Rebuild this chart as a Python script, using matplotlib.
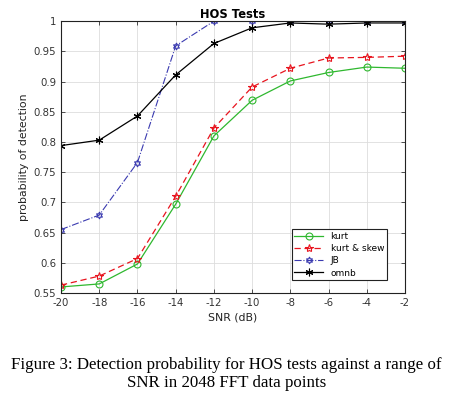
import matplotlib.pyplot as plt

plt.rcParams["axes.unicode_minus"] = False

snr = [-20, -18, -16, -14, -12, -10, -8, -6, -4, -2]
kurt = [0.560, 0.565, 0.598, 0.697, 0.810, 0.869, 0.901, 0.915, 0.924, 0.922]
kurt_skew = [0.563, 0.578, 0.607, 0.710, 0.823, 0.891, 0.922, 0.939, 0.940, 0.942]
jb = [0.655, 0.679, 0.766, 0.959, 1.000, 1.000, 1.000, 1.000, 1.000, 1.000]
omnb = [0.794, 0.803, 0.843, 0.911, 0.963, 0.989, 0.997, 0.995, 0.997, 0.997]

fig = plt.figure(figsize=(4.53, 3.99), dpi=100)
ax = fig.add_axes([0.1347, 0.2657, 0.7593, 0.6813])

ax.plot(snr, kurt, color="#2fb82f", lw=0.9, marker="o", ms=5, mfc="none", mew=0.8, label="kurt")
ax.plot(snr, kurt_skew, color="#e8141e", lw=0.9, ls=(0, (5, 3)), marker="*", ms=6, mfc="none", mew=0.8, label="kurt & skew")
ax.plot(snr, jb, color="#3a3ab0", lw=0.8, ls="-.", marker=(6, 1, 0), ms=5, mfc="none", mew=0.8, label="JB")
ax.plot(snr, omnb, color="black", lw=0.9, marker=(6, 2, 0), ms=5.5, mew=0.8, label="omnb")

ax.set_xlim(-20, -2)
ax.set_ylim(0.55, 1)
ax.set_xticks(range(-20, 0, 2))
ax.set_yticks([0.55, 0.6, 0.65, 0.7, 0.75, 0.8, 0.85, 0.9, 0.95, 1])
ax.set_yticklabels(["0.55", "0.6", "0.65", "0.7", "0.75", "0.8", "0.85", "0.9", "0.95", "1"])
ax.tick_params(labelsize=7.3, direction="in", length=3, width=0.6, colors="#333333", top=True, right=True)
ax.grid(True, color="#dddddd", lw=0.6)
for s in ax.spines.values():
    s.set_linewidth(0.8)
    s.set_color("#222222")

ax.set_title("HOS Tests", fontsize=8.3, fontweight="bold", pad=2)
ax.set_xlabel("SNR (dB)", fontsize=7.8, labelpad=3, color="#222222")
ax.set_ylabel("probability of detection", fontsize=7.8, labelpad=3, color="#222222")

leg = ax.legend(loc="lower right", bbox_to_anchor=(0.96, 0.03), fontsize=6.5, fancybox=False,
                edgecolor="#222222", framealpha=1, handlelength=3.2, borderpad=0.3, labelspacing=0.35)
leg.get_frame().set_linewidth(0.8)

fig.text(0.5, 0.062, "Figure 3: Detection probability for HOS tests against a range of\nSNR in 2048 FFT data points",
         ha="center", va="center", fontsize=12.2, family="Liberation Serif", linespacing=1.2)

fig.savefig("out.png", dpi=100)
